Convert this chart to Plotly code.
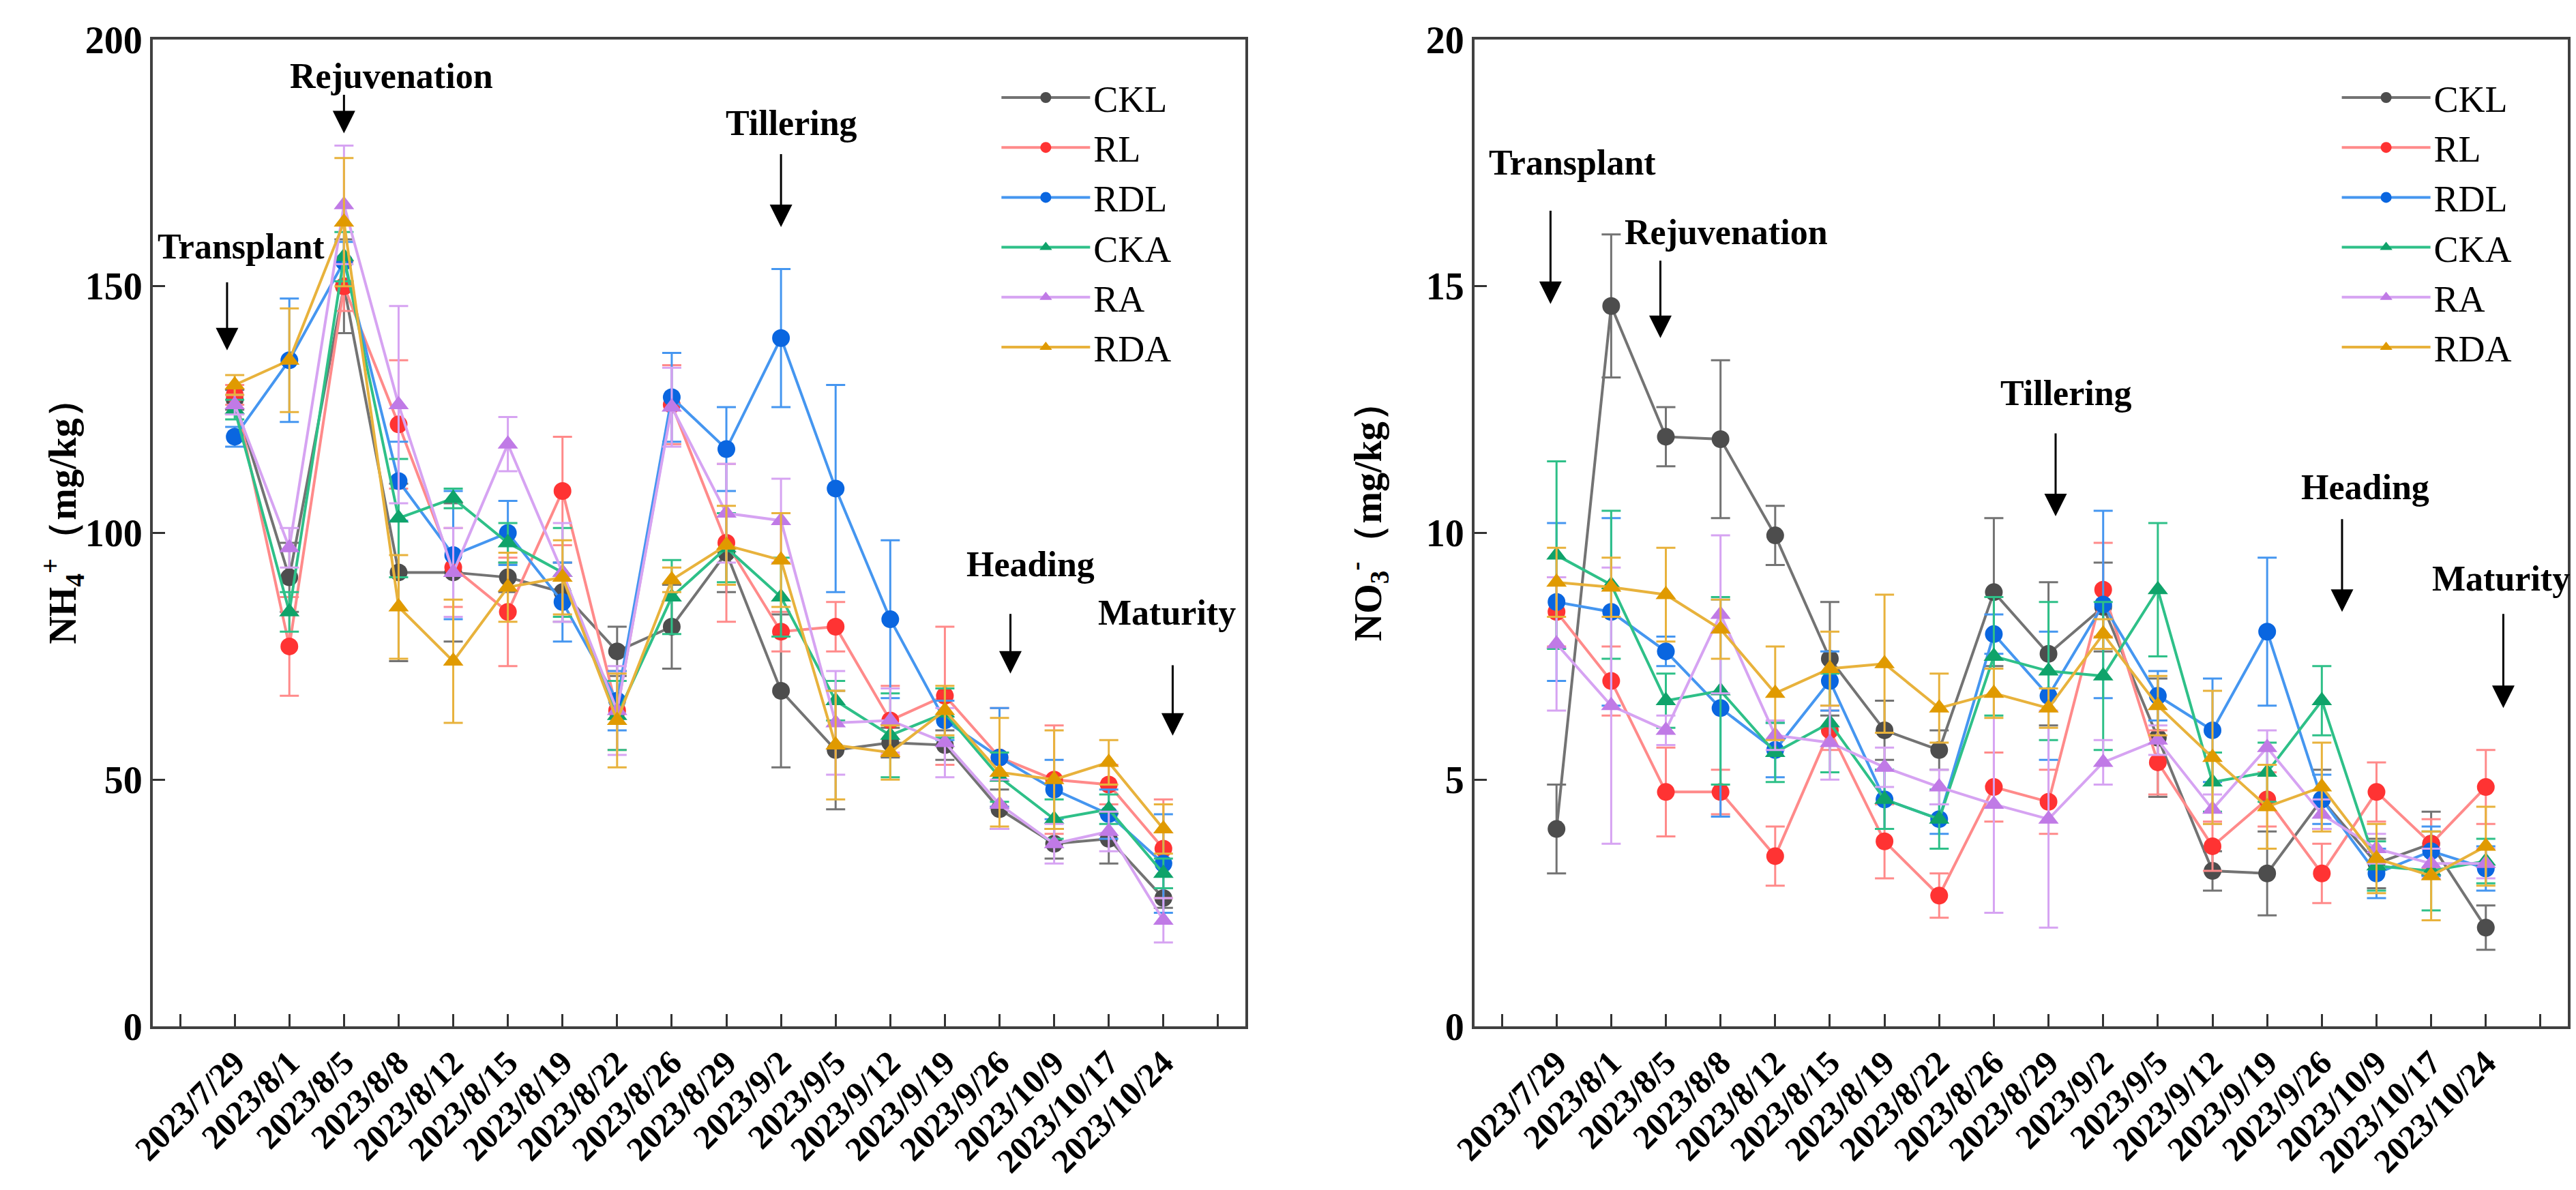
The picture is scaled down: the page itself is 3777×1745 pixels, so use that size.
import plotly.graph_objects as go

dates = ["2023/7/29", "2023/8/1", "2023/8/5", "2023/8/8", "2023/8/12", "2023/8/15",
         "2023/8/19", "2023/8/22", "2023/8/26", "2023/8/29", "2023/9/2", "2023/9/5",
         "2023/9/12", "2023/9/19", "2023/9/26", "2023/10/9", "2023/10/17", "2023/10/24"]
series = ["CKL", "RL", "RDL", "CKA", "RA", "RDA"]

# NH4+ (mg/kg), mean and error
nh4_ckl = [127, 91, 150, 92, 92, 91, 88, 76, 81, 96, 68, 56, 57.5, 57, 44, 37, 38, 26]
nh4_ckl_err = [2, 7, 9.5, 18, 14, 3, 6, 5, 8.5, 8, 15.5, 12, 3, 3, 4, 3, 5, 2]
nh4_rl = [128, 77, 150, 122, 93, 84, 108.5, 64, 126, 98, 80, 81, 62, 67, 54.5, 50, 49, 36]
nh4_rl_err = [2, 10, 5, 13, 8, 11, 11, 8, 8, 16, 4, 5, 7, 14, 10, 11, 4, 10]
nh4_rdl = [119.5, 135, 155, 110.5, 95.5, 100, 86, 66, 127.5, 117, 139.5, 109, 82.5, 62, 54.5, 48, 43, 33]
nh4_rdl_err = [2, 12.5, 4, 8, 13, 6.5, 8, 6, 9, 8.5, 14, 21, 16, 4, 10, 6, 5, 10]
nh4_cka = [125, 84, 156, 103, 107, 98, 92, 63, 87, 97, 87, 66, 59, 63.5, 50.5, 42, 44, 31]
nh4_cka_err = [2, 4, 5, 12, 2, 4, 9, 7, 7.5, 7, 8, 4, 8.5, 5, 5, 4, 3, 3]
nh4_ra = [126, 97, 166.5, 126, 92, 118, 92, 64, 125.5, 104, 102.5, 61.5, 62, 57.5, 45, 37, 39.5, 21.5]
nh4_ra_err = [2, 4, 12, 20, 9, 5.5, 10, 9, 8, 10, 8.5, 10.5, 6.5, 7, 5, 4, 4, 4.5]
nh4_rda = [130, 135, 163, 85, 74, 89, 91, 62, 90.5, 97.5, 94.5, 57, 55.5, 64, 51.5, 50, 53.5, 40]
nh4_rda_err = [2, 10.5, 13, 10.5, 12.5, 7, 7.5, 9.5, 2.5, 8, 9.5, 11, 5.5, 5, 11, 10, 4.5, 5]

# NO3- (mg/kg), mean and error
no3_ckl = [4.0, 14.6, 11.95, 11.9, 9.95, 7.45, 6.0, 5.6, 8.8, 7.55, 8.5, 5.85, 3.15, 3.1, 4.6, 3.3, 3.7, 2.0]
no3_ckl_err = [0.9, 1.45, 0.6, 1.6, 0.6, 1.15, 0.6, 0.4, 1.5, 1.45, 0.9, 1.2, 0.4, 0.85, 0.6, 0.5, 0.65, 0.45]
no3_rl = [8.4, 7.0, 4.75, 4.75, 3.45, 6.0, 3.75, 2.65, 4.85, 4.55, 8.85, 5.35, 3.65, 4.6, 3.1, 4.75, 3.7, 4.85]
no3_rl_err = [0.7, 0.7, 0.9, 0.45, 0.6, 0.4, 0.75, 0.45, 0.7, 0.65, 0.95, 0.65, 0.5, 0.55, 0.6, 0.6, 0.5, 0.75]
no3_rdl = [8.6, 8.4, 7.6, 6.45, 5.6, 7.0, 4.6, 4.2, 7.95, 6.7, 8.55, 6.7, 6.0, 8.0, 4.6, 3.1, 3.55, 3.2]
no3_rdl_err = [1.6, 1.9, 0.3, 2.2, 0.55, 0.6, 0.6, 0.3, 0.4, 1.3, 1.9, 0.5, 1.05, 1.5, 0.5, 0.5, 0.5, 0.45]
no3_cka = [9.55, 8.95, 6.6, 6.8, 5.55, 6.15, 4.6, 4.2, 7.5, 7.2, 7.1, 8.85, 4.95, 5.15, 6.6, 3.25, 3.15, 3.35]
no3_cka_err = [1.9, 1.5, 0.55, 1.9, 0.6, 1.0, 0.6, 0.6, 1.2, 1.4, 1.5, 1.35, 0.6, 0.6, 0.7, 0.5, 0.8, 0.45]
no3_ra = [7.75, 6.5, 6.0, 8.35, 5.9, 5.75, 5.25, 4.85, 4.5, 4.2, 5.35, 5.8, 4.4, 5.65, 4.3, 3.6, 3.3, 3.3]
no3_ra_err = [1.35, 2.8, 0.3, 1.6, 0.3, 0.75, 0.4, 0.35, 2.2, 2.2, 0.45, 0.3, 0.3, 0.35, 0.3, 0.3, 0.3, 0.3]
no3_rda = [9.0, 8.9, 8.75, 8.05, 6.75, 7.25, 7.35, 6.45, 6.75, 6.45, 7.95, 6.5, 5.45, 4.45, 4.85, 3.4, 3.05, 3.65]
no3_rda_err = [0.7, 0.6, 0.95, 0.6, 0.95, 0.75, 1.4, 0.7, 0.5, 0.4, 0.3, 0.6, 1.35, 0.85, 0.9, 0.7, 0.9, 0.8]

nh4 = [(nh4_ckl, nh4_ckl_err), (nh4_rl, nh4_rl_err), (nh4_rdl, nh4_rdl_err),
       (nh4_cka, nh4_cka_err), (nh4_ra, nh4_ra_err), (nh4_rda, nh4_rda_err)]
no3 = [(no3_ckl, no3_ckl_err), (no3_rl, no3_rl_err), (no3_rdl, no3_rdl_err),
       (no3_cka, no3_cka_err), (no3_ra, no3_ra_err), (no3_rda, no3_rda_err)]

marker_colors = ["#4d4d4d", "#ff3333", "#0a66e0", "#0fa36a", "#c07ae6", "#e09a00"]
line_colors = ["#737373", "#ff8a8a", "#4596f0", "#2ec088", "#d6a3f2", "#e8b23c"]
symbols = ["circle", "circle", "circle", "triangle-up", "triangle-up", "triangle-up"]

FONT = "Times New Roman"
idx = list(range(len(dates)))

fig = go.Figure()
for data, xa, ya, lg in [(nh4, "x", "y", "legend"), (no3, "x2", "y2", "legend2")]:
    for i, name in enumerate(series):
        vals, errs = data[i]
        fig.add_trace(go.Scatter(
            x=idx, y=vals, name=name, mode="lines+markers",
            xaxis=xa, yaxis=ya, legend=lg,
            line=dict(color=line_colors[i], width=4),
            marker=dict(color=marker_colors[i], symbol=symbols[i], size=26),
            error_y=dict(type="data", array=errs, color=line_colors[i], thickness=3, width=14),
        ))

xaxis_style = dict(
    range=[-1.5, 18.5], tickmode="array",
    tickvals=[-1] + idx + [18], ticktext=[""] + dates + [""],
    tickangle=-45, ticks="inside", ticklen=18, tickwidth=3, tickcolor="#333",
    showline=True, linecolor="#404040", linewidth=4, mirror=True,
    showgrid=False, zeroline=False, automargin=False,
    tickfont=dict(family=FONT, size=50, color="black", weight="bold"),
)
yaxis_style = dict(
    ticks="inside", ticklen=18, tickwidth=3, tickcolor="#333",
    showline=True, linecolor="#404040", linewidth=4, mirror=True,
    showgrid=False, zeroline=False, automargin=False,
    tickfont=dict(family=FONT, size=56, color="black", weight="bold"),
)

fig.update_layout(
    width=3777, height=1745,
    margin=dict(l=216, r=20, t=50, b=248),
    paper_bgcolor="white", plot_bgcolor="white",
    font=dict(family=FONT),
    showlegend=True,
    xaxis=dict(domain=[0, 0.4524], **xaxis_style),
    xaxis2=dict(domain=[0.5473, 1], anchor="y2", **xaxis_style),
    yaxis=dict(range=[0, 200], tickvals=[0, 50, 100, 150, 200], **yaxis_style),
    yaxis2=dict(range=[0, 20], tickvals=[0, 5, 10, 15, 20], anchor="x2", **yaxis_style),
    legend=dict(x=0.350, y=0.970, xanchor="left", yanchor="top", bgcolor="rgba(0,0,0,0)",
                font=dict(family=FONT, size=54, color="black"), itemwidth=130, tracegroupgap=0),
    legend2=dict(x=0.905, y=0.970, xanchor="left", yanchor="top", bgcolor="rgba(0,0,0,0)",
                 font=dict(family=FONT, size=54, color="black"), itemwidth=130, tracegroupgap=0),
)

# axis titles
fig.add_annotation(text="<b>NH<sub>4</sub><sup>+</sup>（mg/kg）</b>", xref="paper", yref="paper",
                   x=-0.049, y=0.521, textangle=-90, showarrow=False,
                   font=dict(family=FONT, size=56, color="black"))
fig.add_annotation(text="<b>NO<sub>3</sub><sup>-</sup>（mg/kg）</b>", xref="paper", yref="paper",
                   x=0.503, y=0.521, textangle=-90, showarrow=False,
                   font=dict(family=FONT, size=56, color="black"))

# growth stage labels: (text, text_x, text_y, arrow_x, tail_y, head_y)
stages_nh4 = [("Transplant", 0.12, 158, -0.14, 151, 137),
              ("Rejuvenation", 2.87, 192.6, 2.0, 189, 181),
              ("Tillering", 10.19, 183, 10.0, 177, 162),
              ("Heading", 14.57, 93.7, 14.2, 83.8, 71.5),
              ("Maturity", 17.07, 83.8, 17.17, 73.4, 58.9)]
stages_no3 = [("Transplant", 0.29, 17.5, -0.11, 16.55, 14.64),
              ("Rejuvenation", 3.1, 16.09, 1.9, 15.54, 13.95),
              ("Tillering", 9.32, 12.84, 9.13, 12.04, 10.34),
              ("Heading", 14.8, 10.92, 14.37, 10.3, 8.4),
              ("Maturity", 17.28, 9.07, 17.32, 8.38, 6.45)]

for stages, xr, yr in [(stages_nh4, "x", "y"), (stages_no3, "x2", "y2")]:
    for text, tx, ty, axp, tail, head in stages:
        fig.add_annotation(text="<b>%s</b>" % text, x=tx, y=ty, xref=xr, yref=yr,
                           showarrow=False, font=dict(family=FONT, size=52, color="black"))
        fig.add_annotation(text="", x=axp, y=head, ax=axp, ay=tail, xref=xr, yref=yr,
                           axref=xr, ayref=yr, showarrow=True, arrowhead=2,
                           arrowsize=2.2, arrowwidth=3, arrowcolor="black")

fig.write_html("out.html")
